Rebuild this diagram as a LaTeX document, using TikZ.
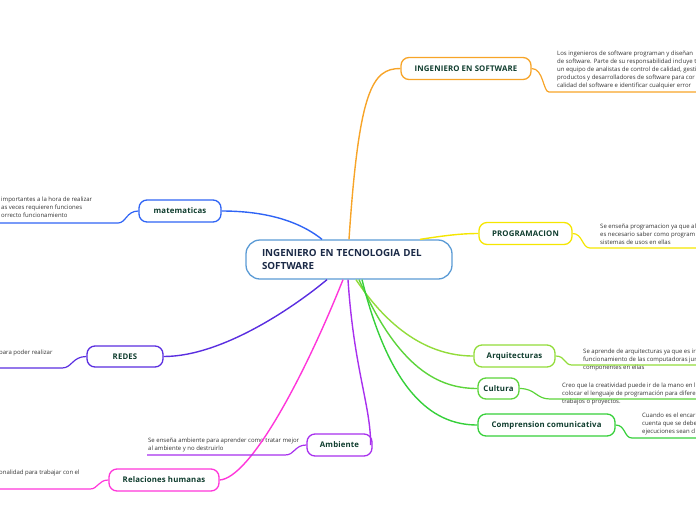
\documentclass[tikz,border=0pt]{standalone}
\usepackage{fontspec}
\setmainfont{Open Sans}
\definecolor{cborder}{HTML}{5B9BD5}
\definecolor{ctext}{HTML}{1B2A47}
\definecolor{ttext}{HTML}{0F3D2E}
\definecolor{leaftext}{HTML}{333333}
\definecolor{corange}{HTML}{F7A428}
\definecolor{cyellow}{HTML}{F5E600}
\definecolor{cgreenA}{HTML}{92DC3A}
\definecolor{cgreenB}{HTML}{5CD43A}
\definecolor{cgreenC}{HTML}{36D03A}
\definecolor{cblue}{HTML}{2F64F5}
\definecolor{cindigo}{HTML}{5A2EE0}
\definecolor{cpurple}{HTML}{A830EE}
\definecolor{cmagenta}{HTML}{FF36DA}
\begin{document}
\begin{tikzpicture}[x=1pt,y=-1pt,
  centre/.style={draw=cborder, line width=1.3pt, rounded corners=14pt, fill=white,
    text=ctext, font=\fontsize{9.8}{13}\selectfont\bfseries, align=left,
    text width=174pt, inner xsep=16pt, minimum height=39pt},
  topic/.style={draw, line width=1.3pt, rounded corners=8pt, fill=white,
    text=ttext, font=\fontsize{7.8}{9}\selectfont\bfseries\addfontfeatures{LetterSpace=2}, minimum height=22pt, inner sep=0pt},
  leaf/.style={text=leaftext, font=\fontsize{6}{8.1}\selectfont, align=left, inner sep=0pt, anchor=north west},
  branch/.style={line width=1.4pt},
  uline/.style={line width=1.2pt}]
\useasboundingbox (0,0) rectangle (696,520);

% central node
\node[centre] (c) at (349,259.5) {INGENIERO EN TECNOLOGIA DEL\\SOFTWARE};

% topics
\node[topic, draw=corange, minimum width=130pt] (ing) at (466,68.5) {INGENIERO EN SOFTWARE};
\node[topic, draw=cyellow, minimum width=93pt] (prog) at (525.5,233.5) {PROGRAMACION};
\node[topic, draw=cgreenA, minimum width=81pt] (arq) at (514.5,356) {Arquitecturas};
\node[topic, draw=cgreenB, minimum width=41pt, minimum height=21pt] (cul) at (498.5,388.5) {Cultura};
\node[topic, draw=cgreenC, minimum width=137pt] (comp) at (546.5,425) {Comprension comunicativa};
\node[topic, draw=cblue, minimum width=82pt] (mat) at (180,211) {matematicas};
\node[topic, draw=cindigo, minimum width=76pt, minimum height=21pt] (redes) at (125,356.5) {REDES};
\node[topic, draw=cpurple, minimum width=65pt] (amb) at (339.5,445) {Ambiente};
\node[topic, draw=cmagenta, minimum width=110pt] (rel) at (164,480) {Relaciones humanas};

% leaf texts
\node[leaf] (ingT) at (557,50.5) {Los ingenieros de software programan y diseñan\\de software. Parte de su responsabilidad incluye t\\un equipo de analistas de control de calidad, gesti\\productos y desarrolladores de software para cor\\calidad del software e identificar cualquier error};
\node[leaf] (progT) at (600,223.5) {Se enseña programacion ya que al\\es necesario saber como program\\sistemas de usos en ellas};
\node[leaf] (arqT) at (583,348.5) {Se aprende de arquitecturas ya que es ir\\funcionamiento de las computadoras jur\\componentes en ellas};
\node[leaf] (culT) at (562,382.5) {Creo que la creatividad puede ir de la mano en l\\colocar el lenguaje de programación para difere\\trabajos o proyectos.};
\node[leaf] (compT) at (642,412.5) {Cuando es el encar\\cuenta que se debe\\ejecuciones sean cl};
\node[leaf] (matT) at (1,196.5) {importantes a la hora de realizar\\as veces requieren funciones\\orrecto funcionamiento};
\node[leaf] (redesT) at (-1,349.5) {para poder realizar};
\node[leaf] (ambT) at (148,437.5) {Se enseña ambiente para aprender como tratar mejor\\al ambiente y no destruirlo};
\node[leaf] (relT) at (-1,469.5) {onalidad para trabajar con el};

% underline end points
\coordinate (ingA) at (549,92);   \coordinate (ingB) at (696,92);
\coordinate (progA) at (590,248); \coordinate (progB) at (696,248);
\coordinate (arqA) at (572,365);  \coordinate (arqB) at (696,365);
\coordinate (culA) at (550,399);  \coordinate (culB) at (696,399);
\coordinate (compA) at (632,438); \coordinate (compB) at (696,438);
\coordinate (matA) at (118,223);  \coordinate (matB) at (0,223);
\coordinate (redesA) at (62,368); \coordinate (redesB) at (0,368);
\coordinate (ambA) at (285,455);  \coordinate (ambB) at (147,455);
\coordinate (relA) at (90,489);   \coordinate (relB) at (0,489);

% branches from centre
\draw[branch, corange] (c.north) .. controls +(10,-150) and +(-28,0) .. (ing.west);
\draw[branch, cyellow] ([xshift=71pt]c.north) .. controls +(20,-3) and +(-20,0) .. (prog.west);
\draw[branch, cblue] ([xshift=-27pt]c.north) .. controls +(-25,-20) and +(40,0) .. (mat.east);
\draw[branch, cindigo] ([xshift=-22pt]c.south) .. controls +(-30,25) and +(60,0) .. (redes.east);
\draw[branch, cmagenta] ([xshift=-6pt]c.south) .. controls +(-40,100) and +(30,-2) .. (rel.east);
\draw[branch, cpurple] ([xshift=-1pt]c.south) .. controls +(6,90) and +(0,-40) .. ([xshift=-2pt]amb.east);
\draw[branch, cgreenA] ([xshift=7pt]c.south) .. controls +(40,60) and +(-35,0) .. (arq.west);
\draw[branch, cgreenB] ([xshift=10pt]c.south) .. controls +(40,90) and +(-38,0) .. (cul.west);
\draw[branch, cgreenC] ([xshift=13pt]c.south) .. controls +(30,120) and +(-40,0) .. (comp.west);

% topic to leaf connectors
\draw[uline, corange] (ing.east) .. controls +(12,0) and +(-6,0) .. (ingA) -- (ingB);
\draw[uline, cyellow] (prog.east) .. controls +(10,0) and +(-8,0) .. (progA) -- (progB);
\draw[uline, cgreenA] (arq.east) .. controls +(10,0) and +(-8,0) .. (arqA) -- (arqB);
\draw[uline, cgreenB] (cul.east) .. controls +(16,0) and +(-14,0) .. (culA) -- (culB);
\draw[uline, cgreenC] (comp.east) .. controls +(10,0) and +(-8,0) .. (compA) -- (compB);
\draw[uline, cblue] (mat.west) .. controls +(-12,0) and +(8,0) .. (matA) -- (matB);
\draw[uline, cindigo] (redes.west) .. controls +(-14,0) and +(10,0) .. (redesA) -- (redesB);
\draw[uline, cpurple] (amb.west) .. controls +(-12,0) and +(10,0) .. (ambA) -- (ambB);
\draw[uline, cmagenta] (rel.west) .. controls +(-10,0) and +(8,0) .. (relA) -- (relB);
\end{tikzpicture}
\end{document}
